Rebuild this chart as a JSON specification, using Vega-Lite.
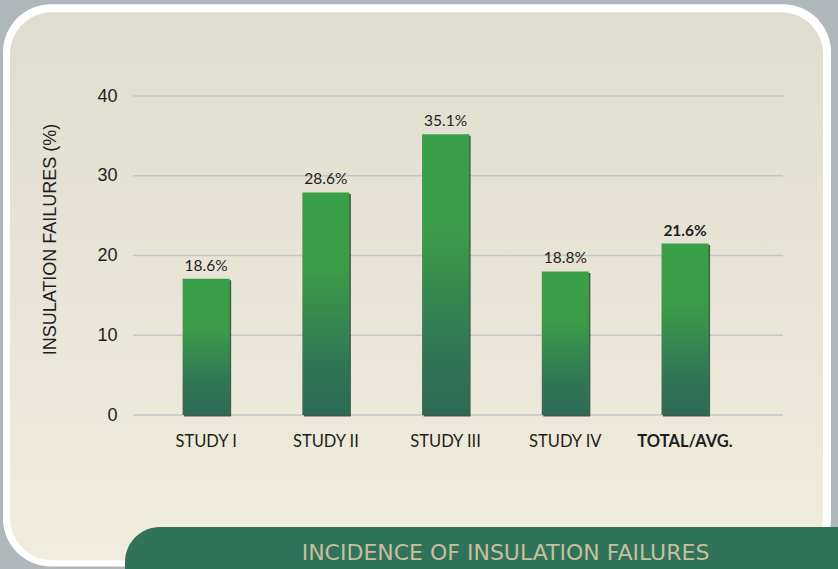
{
  "$schema": "https://vega.github.io/schema/vega-lite/v6.json",
  "width": 650,
  "height": 319,
  "autosize": {"type": "none"},
  "padding": {"left": 133, "top": 96, "right": 55, "bottom": 154},
  "background": "#b0b7bb",
  "config": {"view": {"stroke": null}},
  "datasets": {
    "studies": [
      {"study": "STUDY I", "value": 17.1, "label": "18.6%"},
      {"study": "STUDY II", "value": 27.9, "label": "28.6%"},
      {"study": "STUDY III", "value": 35.2, "label": "35.1%"},
      {"study": "STUDY IV", "value": 18.0, "label": "18.8%"},
      {"study": "TOTAL/AVG.", "value": 21.5, "label": "21.6%"}
    ],
    "gridlines": [{"tick": 0}, {"tick": 10}, {"tick": 20}, {"tick": 30}, {"tick": 40}],
    "decor": [{"caption": "INCIDENCE OF INSULATION FAILURES"}]
  },
  "layer": [
    {
      "data": {"name": "decor"},
      "layer": [
        {
          "mark": {"type": "rect", "fill": "#ffffff", "cornerRadius": 48},
          "encoding": {
            "x": {"datum": -130, "type": "quantitative", "scale": {"domain": [0, 650], "nice": false, "zero": false}, "axis": null},
            "x2": {"datum": 698},
            "y": {"datum": 51.5, "type": "quantitative", "scale": {"domain": [0, 40], "nice": false}, "axis": null},
            "y2": {"datum": -19}
          }
        },
        {
          "mark": {"type": "rect", "cornerRadius": 42, "fill": {"gradient": "linear", "x1": 0, "y1": 0, "x2": 0, "y2": 1, "stops": [{"offset": 0, "color": "#dfddcf"}, {"offset": 1, "color": "#f1eddd"}]}},
          "encoding": {
            "x": {"datum": -123, "type": "quantitative", "scale": {"domain": [0, 650], "nice": false, "zero": false}, "axis": null},
            "x2": {"datum": 690},
            "y": {"datum": 50.5, "type": "quantitative", "scale": {"domain": [0, 40], "nice": false}, "axis": null},
            "y2": {"datum": -18.2}
          }
        },
        {
          "mark": {"type": "rect", "fill": "#30725a", "cornerRadiusTopLeft": 35},
          "encoding": {
            "x": {"datum": -8, "type": "quantitative", "scale": {"domain": [0, 650], "nice": false, "zero": false}, "axis": null},
            "x2": {"datum": 760},
            "y": {"datum": -14.05, "type": "quantitative", "scale": {"domain": [0, 40], "nice": false}, "axis": null},
            "y2": {"datum": -25}
          }
        },
        {
          "mark": {"type": "text", "font": "DejaVu Sans", "fontSize": 22, "fill": "#c6c19b", "align": "center", "baseline": "alphabetic"},
          "encoding": {
            "x": {"datum": 372.5, "type": "quantitative", "scale": {"domain": [0, 650], "nice": false, "zero": false}, "axis": null},
            "y": {"datum": -18.15, "type": "quantitative", "scale": {"domain": [0, 40], "nice": false}, "axis": null},
            "text": {"field": "caption"}
          }
        }
      ]
    },
    {
      "resolve": {"axis": {"y": "independent"}},
      "layer": [
        {
          "data": {"name": "gridlines"},
          "mark": {"type": "rule", "color": "#c4c6ca", "strokeWidth": 1.5},
          "encoding": {
            "y": {"field": "tick", "type": "quantitative", "scale": {"domain": [0, 40], "nice": false}, "axis": null}
          }
        },
        {
          "data": {"name": "studies"},
          "encoding": {
            "x": {
              "field": "study",
              "type": "nominal",
              "sort": null,
              "scale": {"paddingInner": 0.607, "paddingOuter": 0.518, "align": 0.4},
              "axis": {
                "title": null,
                "zindex": 1,
                "labelAngle": 0,
                "labelFont": "Lato",
                "labelFontSize": 16.5,
                "labelColor": "#1e1e1e",
                "labelPadding": 18,
                "labelFontWeight": {"condition": {"test": "datum.value == 'TOTAL/AVG.'", "value": "bold"}, "value": "normal"},
                "domain": false,
                "ticks": false,
                "grid": false
              }
            },
            "y": {
              "field": "value",
              "type": "quantitative",
              "scale": {"domain": [0, 40], "nice": false},
              "axis": {
                "title": "INSULATION FAILURES (%)",
                "zindex": 1,
                "titleFont": "Liberation Sans",
                "titleFontSize": 18,
                "titleFontWeight": "normal",
                "titleColor": "#1e1e1e",
                "titleAngle": -90,
                "titleX": -83,
                "titleY": 143,
                "titleAlign": "center",
                "titleBaseline": "middle",
                "values": [0, 10, 20, 30, 40],
                "labelFont": "Liberation Sans",
                "labelFontSize": 18,
                "labelColor": "#1e1e1e",
                "labelPadding": 16,
                "domain": false,
                "ticks": false,
                "grid": false
              }
            }
          },
          "layer": [
            {
              "mark": {"type": "bar", "fill": "#1c2a1e", "opacity": 0.75, "xOffset": 1.5, "yOffset": 1.5}
            },
            {
              "mark": {"type": "bar", "fill": {"gradient": "linear", "x1": 0, "y1": 0, "x2": 0, "y2": 1, "stops": [{"offset": 0, "color": "#39a047"}, {"offset": 0.35, "color": "#3a9c48"}, {"offset": 0.8, "color": "#307456"}, {"offset": 1, "color": "#2d6a56"}]}}
            },
            {
              "transform": [{"filter": "datum.study != 'TOTAL/AVG.'"}],
              "mark": {"type": "text", "font": "Lato", "fontSize": 15.5, "color": "#1e1e1e", "baseline": "alphabetic", "dy": -8},
              "encoding": {"text": {"field": "label"}}
            },
            {
              "transform": [{"filter": "datum.study == 'TOTAL/AVG.'"}],
              "mark": {"type": "text", "font": "Lato", "fontSize": 15.5, "fontWeight": "bold", "color": "#1e1e1e", "baseline": "alphabetic", "dy": -8},
              "encoding": {"text": {"field": "label"}}
            }
          ]
        }
      ]
    }
  ],
  "resolve": {"scale": {"x": "independent"}, "axis": {"x": "independent", "y": "independent"}}
}
